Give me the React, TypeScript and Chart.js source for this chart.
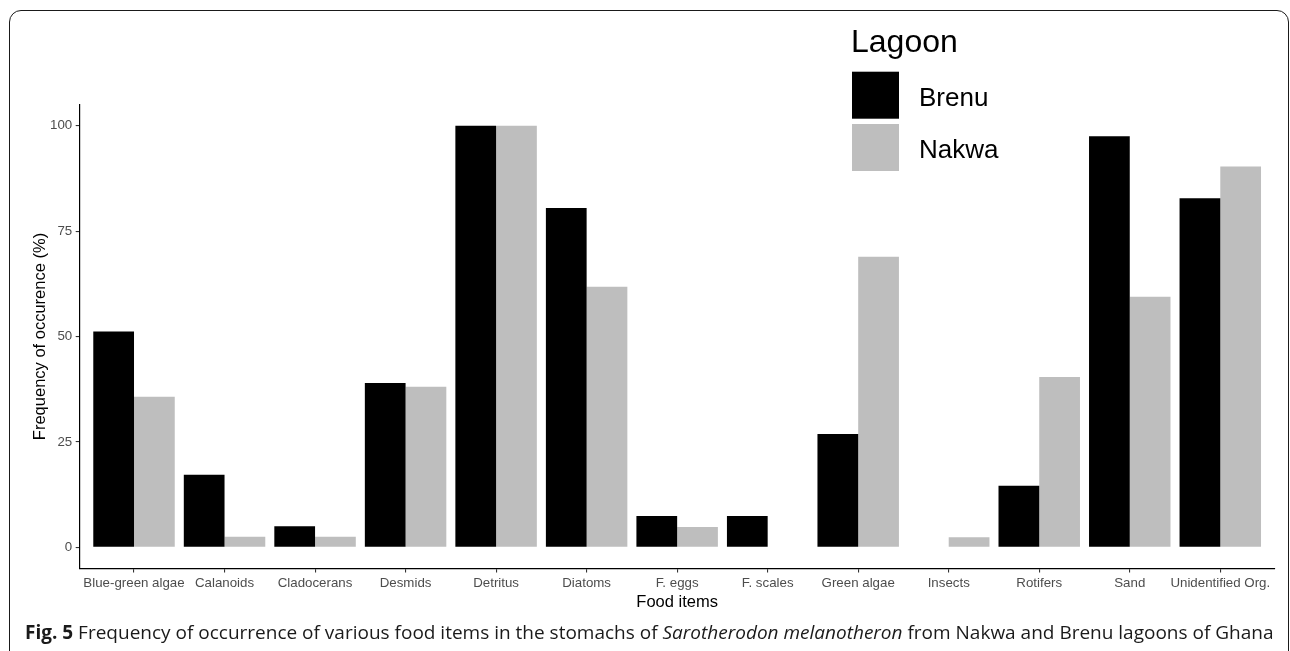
import React, { useEffect, useRef } from 'react';
import { Chart, registerables } from 'chart.js';

Chart.register(...registerables);

const categories = [
  'Blue-green algae', 'Calanoids', 'Cladocerans', 'Desmids', 'Detritus', 'Diatoms',
  'F. eggs', 'F. scales', 'Green algae', 'Insects', 'Rotifers', 'Sand', 'Unidentified Org.',
];
const brenu = [51.2, 17.2, 5.0, 39.0, 100, 80.5, 7.4, 7.4, 26.9, 0, 14.6, 97.5, 82.8];
const nakwa = [35.7, 2.5, 2.5, 38.1, 100, 61.8, 4.8, 0, 68.9, 2.4, 40.4, 59.4, 90.3];
const yTicks = [0, 25, 50, 75, 100];
const seriesNames = ['Brenu', 'Nakwa'];
const seriesColors = ['#000000', '#BEBEBE'];
const legendTitle = 'Lagoon';
const xTitle = 'Food items';
const yTitle = 'Frequency of occurence (%)';

const FONT = "'Liberation Sans', Arial, sans-serif";

const legendPlugin = {
  id: 'ggLegend',
  afterDraw(chart: any) {
    const ctx = chart.ctx;
    ctx.save();
    ctx.fillStyle = '#000';
    ctx.textAlign = 'left';
    ctx.textBaseline = 'alphabetic';
    ctx.font = `32px ${FONT}`;
    ctx.fillText(legendTitle, 851, 52);
    chart.data.datasets.forEach((ds: any, i: number) => {
      const top = 71.7 + i * 52.3;
      ctx.fillStyle = ds.backgroundColor;
      ctx.fillRect(852, top, 47, 47);
      ctx.fillStyle = '#000';
      ctx.font = `26px ${FONT}`;
      ctx.fillText(ds.label, 919, top + 34);
    });
    ctx.restore();
  },
};

export default function App() {
  const ref = useRef<HTMLCanvasElement | null>(null);

  useEffect(() => {
    if (!ref.current) return;
    const chart = new Chart(ref.current, {
      type: 'bar',
      data: {
        datasets: [brenu, nakwa].map((vals, s) => ({
          label: seriesNames[s],
          data: vals.map((v, i) => ({ x: i + 1, y: v })),
          backgroundColor: seriesColors[s],
          borderWidth: 0,
          categoryPercentage: 0.9,
          barPercentage: 1.0,
        })),
      },
      options: {
        responsive: false,
        animation: false,
        layout: { padding: { left: 0, right: 15.4, top: 104.6, bottom: 0 } },
        plugins: {
          legend: { display: false },
          tooltip: { enabled: false },
        },
        scales: {
          x: {
            type: 'linear',
            min: 0.4,
            max: 13.6,
            offset: false,
            afterFit: (s: any) => { s.height = 82.6; },
            afterBuildTicks: (s: any) => { s.ticks = categories.map((_, i) => ({ value: i + 1 })); },
            grid: { display: true, offset: false, drawOnChartArea: false, drawTicks: true, tickLength: 4, color: '#333333', lineWidth: 1.1 },
            border: { display: true, color: '#000000', width: 1.2 },
            ticks: {
              autoSkip: false,
              maxRotation: 0,
              minRotation: 0,
              padding: 3,
              color: '#4D4D4D',
              font: { family: FONT, size: 13.3 },
              callback: (v: any) => categories[Math.round(v) - 1] ?? '',
            },
            title: {
              display: true,
              text: xTitle,
              color: '#000',
              font: { family: FONT, size: 16.5 },
              padding: { top: 0, bottom: 38.4 },
            },
          },
          y: {
            type: 'linear',
            min: -5,
            max: 105,
            afterFit: (s: any) => { s.width = 79.7; },
            afterBuildTicks: (s: any) => { s.ticks = yTicks.map((v) => ({ value: v })); },
            grid: { display: true, drawOnChartArea: false, drawTicks: true, tickLength: 4, color: '#333333', lineWidth: 1.1 },
            border: { display: true, color: '#000000', width: 1.2 },
            ticks: {
              padding: 3.5,
              color: '#4D4D4D',
              font: { family: FONT, size: 13.3 },
            },
            title: {
              display: true,
              text: yTitle,
              color: '#000',
              font: { family: FONT, size: 16.5 },
              padding: { top: 30.4, bottom: 0 },
            },
          },
        },
      },
      plugins: [legendPlugin],
    } as any);
    return () => chart.destroy();
  }, []);

  return (
    <div style={{ position: 'absolute', left: 0, top: 0, width: 1290, height: 651, overflow: 'hidden', background: '#fff' }}>
      <div
        style={{
          position: 'absolute', left: 9, top: 10, width: 1280, height: 720,
          border: '1.5px solid #1a1a1a', borderRadius: 12, boxSizing: 'border-box',
        }}
      />
      <canvas ref={ref} width={1290} height={651} style={{ position: 'absolute', left: 0, top: 0, display: 'block' }} />
      <div
        style={{
          position: 'absolute', left: 25, top: 623, whiteSpace: 'nowrap',
          fontFamily: "'Open Sans', sans-serif", fontSize: 19, lineHeight: '19px', color: '#1a1a1a',
        }}
      >
        <b>Fig. 5</b> Frequency of occurrence of various food items in the stomachs of{' '}
        <i>Sarotherodon melanotheron</i> from Nakwa and Brenu lagoons of Ghana
      </div>
    </div>
  );
}
